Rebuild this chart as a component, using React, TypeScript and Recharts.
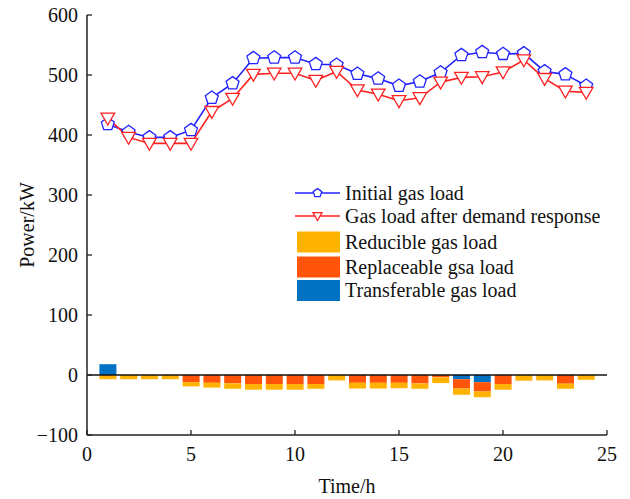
import React from 'react';
import { ComposedChart, Bar, Line, XAxis, YAxis, ReferenceLine, Legend } from 'recharts';

const hours = [1, 2, 3, 4, 5, 6, 7, 8, 9, 10, 11, 12, 13, 14, 15, 16, 17, 18, 19, 20, 21, 22, 23, 24];
const initialLoad = [418, 405, 396, 396, 408, 462, 486, 528, 529, 529, 518, 517, 502, 494, 482, 489, 504, 533, 538, 535, 536, 506, 501, 482];
const responseLoad = [428, 396, 386, 386, 386, 439, 461, 501, 503, 503, 491, 506, 475, 468, 457, 462, 488, 496, 497, 505, 525, 494, 473, 471];
const reducible = [-7, -7, -7, -7, -7, -8, -9, -9.5, -9.5, -9.5, -8, -9, -9.5, -9.5, -9, -9, -9.5, -10.5, -9.5, -9.5, -9.5, -9, -8.5, -8];
const replaceable = [0, 0, 0, 0, -12, -13, -14, -15, -15, -15, -15, 0, -13, -13, -13, -14, -4, -15.5, -15.5, -15, 0, 0, -14.5, 0];
const transferable = [18, 0, 0, 0, 0, 0, 0, 0, 0, 0, 0, 0, 0, 0, 0, 0, 0, -7, -12, 0, 0, 0, 0, 0];
const xTicks = [0, 5, 10, 15, 20, 25];
const yTicks = [-100, 0, 100, 200, 300, 400, 500, 600];

const data = hours.map((h, i) => ({
  hour: h,
  initial: initialLoad[i],
  after: responseLoad[i],
  reducible: reducible[i],
  replaceable: replaceable[i],
  transferable: transferable[i],
}));

const FONT = '"Liberation Serif", "Times New Roman", serif';
const FS = 20;
const AXIS = '#222';
const BLUE = '#2222ff';
const RED = '#ff2020';
const C_RED = '#FFB300';
const C_REP = '#FF5409';
const C_TRA = '#0072C4';

const fmt = (v: number) => (v < 0 ? '\u2212' + Math.abs(v) : String(v));

const YTick = (props: any) => {
  const { x, y, payload } = props;
  const ax = x + 9;
  return (
    <g>
      <line x1={ax} x2={ax + 5} y1={y} y2={y} stroke={AXIS} strokeWidth={1.3} />
      <text x={x} y={y} dy="0.35em" textAnchor="end" fontFamily={FONT} fontSize={FS} fill="#111">
        {fmt(payload.value)}
      </text>
    </g>
  );
};

const XTick = (props: any) => {
  const { x, y, payload } = props;
  const ay = y - 12;
  return (
    <g>
      <line x1={x} x2={x} y1={ay} y2={ay - 5} stroke={AXIS} strokeWidth={1.3} />
      <text x={x} y={ay + 26} textAnchor="middle" fontFamily={FONT} fontSize={FS} fill="#111">
        {fmt(payload.value)}
      </text>
    </g>
  );
};

const pentagon = (cx: number, cy: number, r: number) => {
  const pts: string[] = [];
  for (let k = 0; k < 5; k++) {
    const a = ((-90 + 72 * k) * Math.PI) / 180;
    pts.push(`${cx + r * Math.cos(a)},${cy + r * Math.sin(a)}`);
  }
  return pts.join(' ');
};

const triDown = (cx: number, cy: number, s: number) =>
  `${cx - s},${cy - s * 0.75} ${cx + s},${cy - s * 0.75} ${cx},${cy + s}`;

const PentDot = (props: any) => {
  const { cx, cy, index } = props;
  if (cx == null || cy == null) return <g key={index} />;
  return <polygon key={index} points={pentagon(cx, cy, 6.8)} fill="white" stroke={BLUE} strokeWidth={1.3} />;
};

const TriDot = (props: any) => {
  const { cx, cy, index } = props;
  if (cx == null || cy == null) return <g key={index} />;
  return <polygon key={index} points={triDown(cx, cy, 6.8)} fill="white" stroke={RED} strokeWidth={1.3} />;
};

const legendItems = [
  { kind: 'line', label: 'Initial gas load', color: BLUE, y: 15 },
  { kind: 'line', label: 'Gas load after demand response', color: RED, y: 38 },
  { kind: 'rect', label: 'Reducible gas load', color: C_RED, y: 64 },
  { kind: 'rect', label: 'Replaceable gsa load', color: C_REP, y: 89 },
  { kind: 'rect', label: 'Transferable gas load', color: C_TRA, y: 112.5 },
];

const LegendContent = () => (
  <svg width={330} height={130} style={{ overflow: 'visible' }}>
    {legendItems.map((it, i) => (
      <g key={i}>
        {it.kind === 'line' ? (
          <g>
            <line x1={5} x2={50} y1={it.y} y2={it.y} stroke={it.color} strokeWidth={1.6} />
            {i === 0 ? (
              <polygon points={pentagon(27.5, it.y, 4.5)} fill="white" stroke={it.color} strokeWidth={1.3} />
            ) : (
              <polygon points={triDown(27.5, it.y, 4.5)} fill="white" stroke={it.color} strokeWidth={1.3} />
            )}
          </g>
        ) : (
          <rect x={7} y={it.y - 10.5} width={43} height={21} fill={it.color} />
        )}
        <text x={55} y={it.y} dy="0.33em" fontFamily={FONT} fontSize={FS} fill="#111">
          {it.label}
        </text>
      </g>
    ))}
  </svg>
);

const XLabel = (props: any) => {
  const vb = props.viewBox || {};
  return (
    <text x={vb.x + vb.width / 2} y={493} textAnchor="middle" fontFamily={FONT} fontSize={FS} fill="#111">
      Time/h
    </text>
  );
};

const YLabel = (props: any) => {
  const vb = props.viewBox || {};
  const cy = vb.y + vb.height / 2;
  return (
    <text x={27} y={cy} textAnchor="middle" dy="0.33em" transform={`rotate(-90, 27, ${cy})`} fontFamily={FONT} fontSize={FS} fill="#111">
      Power/kW
    </text>
  );
};

export default function App() {
  return (
    <div style={{ position: 'absolute', left: 0, top: 0, width: 630, height: 499, background: 'white' }}>
      <ComposedChart
        width={630}
        height={499}
        data={data}
        stackOffset="sign"
        margin={{ top: 15, right: 23, bottom: 14, left: 0 }}
      >
        <XAxis
          dataKey="hour"
          type="number"
          domain={[0, 25]}
          ticks={xTicks}
          interval={0}
          height={50}
          tickSize={0}
          tickMargin={12}
          tick={<XTick />}
          axisLine={{ stroke: AXIS, strokeWidth: 1.5 }}
          label={<XLabel />}
        />
        <XAxis
          xAxisId="top"
          orientation="top"
          type="number"
          domain={[0, 25]}
          height={0}
          tick={false}
          tickLine={false}
          axisLine={{ stroke: AXIS, strokeWidth: 1.5 }}
        />
        <YAxis
          type="number"
          domain={[-100, 600]}
          ticks={yTicks}
          interval={0}
          width={87}
          tickSize={0}
          tickMargin={9}
          tick={<YTick />}
          axisLine={{ stroke: AXIS, strokeWidth: 1.5 }}
          label={<YLabel />}
        />
        <YAxis
          yAxisId="right"
          orientation="right"
          type="number"
          domain={[-100, 600]}
          width={0}
          tick={false}
          tickLine={false}
          axisLine={{ stroke: AXIS, strokeWidth: 1.5 }}
        />
        <Legend
          layout="vertical"
          align="center"
          verticalAlign="middle"
          wrapperStyle={{ position: 'absolute', left: 290, top: 178, width: 330, height: 130 }}
          content={<LegendContent />}
        />
        <Bar dataKey="transferable" stackId="s" fill={C_TRA} barSize={17} isAnimationActive={false} />
        <Bar dataKey="replaceable" stackId="s" fill={C_REP} barSize={17} isAnimationActive={false} />
        <Bar dataKey="reducible" stackId="s" fill={C_RED} barSize={17} isAnimationActive={false} />
        <ReferenceLine y={0} stroke="#111" strokeWidth={1.5} />
        <Line
          dataKey="initial"
          stroke={BLUE}
          strokeWidth={1.6}
          dot={<PentDot />}
          activeDot={false}
          isAnimationActive={false}
        />
        <Line
          dataKey="after"
          stroke={RED}
          strokeWidth={1.6}
          dot={<TriDot />}
          activeDot={false}
          isAnimationActive={false}
        />
      </ComposedChart>
    </div>
  );
}
